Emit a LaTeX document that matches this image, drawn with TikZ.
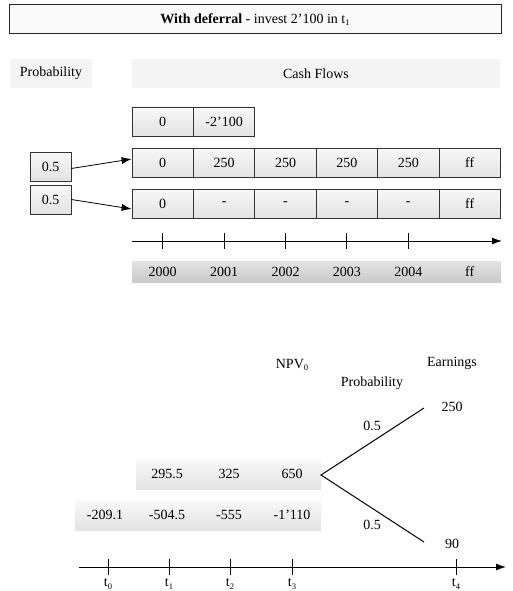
\documentclass[tikz,border=0pt]{standalone}
\usepackage{fontspec}
\setmainfont{Liberation Serif}[Ligatures=Common]
\usetikzlibrary{arrows.meta}
\newcommand{\mysub}[1]{\raisebox{-0.35ex}{\fontsize{8.5}{9}\selectfont #1}}
\tikzset{
  txt/.style={inner sep=0pt, font=\fontsize{14}{16}\selectfont},
  cell/.style={draw=black!80, line width=0.8pt, top color=gray!6, bottom color=gray!22,
    minimum width=61.4pt, minimum height=29pt, inner sep=0pt, font=\fontsize{14}{16}\selectfont},
  probbox/.style={cell, minimum width=41pt},
  lightbox/.style={fill=gray!9, inner sep=0pt, font=\fontsize{14}{16}\selectfont},
  valbox/.style={top color=gray!5, bottom color=gray!22, inner sep=0pt, minimum height=30pt},
  yearbar/.style={top color=gray!22, bottom color=gray!42, inner sep=0pt, minimum height=21pt, minimum width=369pt},
  arr/.style={-{Latex[length=10pt,width=7pt]}, line width=0.8pt},
  axis/.style={-{Latex[length=10pt,width=7pt]}, line width=1pt},
  tick/.style={line width=1pt},
  branch/.style={line width=1pt}
}
\begin{document}
\begin{tikzpicture}[x=1pt,y=-1pt]
\useasboundingbox (0,0) rectangle (513,591);
% title
\node[draw=black!85, line width=1pt, fill=gray!4, minimum width=492pt, minimum height=29pt, inner sep=0pt,
  font=\fontsize{14}{16}\selectfont] (title) at (255,19.5) {\textbf{With deferral} - invest 2'100 in t\mysub{1}};
% headers
\node[lightbox, minimum width=82pt, minimum height=29pt] (probh) at (51,73.5) {Probability};
\node[lightbox, minimum width=368pt, minimum height=29pt] (cfh) at (316,73.5) {Cash Flows};
% row 1
\node[cell] (r1c1) at (162.7,121.5) {0};
\node[cell] (r1c2) at (224.1,121.5) {-2'100};
% row 2
\node[cell] (r2c1) at (162.7,163) {0};
\node[cell] (r2c2) at (224.1,163) {250};
\node[cell] (r2c3) at (285.5,163) {250};
\node[cell] (r2c4) at (346.9,163) {250};
\node[cell] (r2c5) at (408.3,163) {250};
\node[cell] (r2c6) at (469.7,163) {ff};
% row 3
\node[cell] (r3c1) at (162.7,203.5) {0};
\node[cell] (r3c2) at (224.1,203.5) {-};
\node[cell] (r3c3) at (285.5,203.5) {-};
\node[cell] (r3c4) at (346.9,203.5) {-};
\node[cell] (r3c5) at (408.3,203.5) {-};
\node[cell] (r3c6) at (469.7,203.5) {ff};
% probabilities
\node[probbox] (p1) at (50.5,166.5) {0.5};
\node[probbox] (p2) at (50.5,199.5) {0.5};
\draw[arr] ([yshift=-2pt]p1.east) -- ([yshift=4pt]r2c1.west);
\draw[arr] (p2.east) -- ([yshift=-5.5pt]r3c1.west);
% upper axis
\coordinate (ax1s) at (132,241);
\coordinate (ax1e) at (502,241);
\draw[axis] (ax1s) -- (ax1e);
\foreach \x in {162.7,224.1,285.5,346.9,408.3}{
  \draw[tick] (\x,233) -- (\x,249);
}
% year bar
\node[yearbar] (years) at (316.5,271.5) {};
\node[txt] (y0) at (162.7,272) {2000};
\node[txt] (y1) at (224.1,272) {2001};
\node[txt] (y2) at (285.5,272) {2002};
\node[txt] (y3) at (346.9,272) {2003};
\node[txt] (y4) at (408.3,272) {2004};
\node[txt] (y5) at (469.7,272) {ff};
% lower part
\node[txt] (npv) at (292,365) {NPV\mysub{0}};
\node[txt] (earn) at (452,363) {Earnings};
\node[txt] (probl) at (372,383) {Probability};
\node[txt] (e250) at (452,407) {250};
\node[txt] (pu) at (372,426) {0.5};
\node[txt] (pd) at (372,525) {0.5};
\node[txt] (e90) at (452,544) {90};
\node[valbox, minimum width=185pt] (vb1) at (228.5,474) {};
\node[valbox, minimum width=246pt] (vb2) at (198,515) {};
\node[txt] (v11) at (167,474) {295.5};
\node[txt] (v12) at (229,474) {325};
\node[txt] (v13) at (292,474) {650};
\node[txt] (v20) at (105,515) {-209.1};
\node[txt] (v21) at (167,515) {-504.5};
\node[txt] (v22) at (229,515) {-555};
\node[txt] (v23) at (292,515) {-1'110};
% tree
\coordinate (root) at (321,475);
\coordinate (up) at (424,408);
\coordinate (dn) at (424,542);
\draw[branch] (up) -- (root) -- (dn);
% lower axis
\coordinate (ax2s) at (79,567);
\coordinate (ax2e) at (506,567);
\draw[axis] (ax2s) -- (ax2e);
\foreach \x/\l in {108/0,169/1,230/2,292/3,456/4}{
  \draw[tick] (\x,559) -- (\x,575);
  \node[txt] (t\l) at (\x,584) {t\mysub{\l}};
}
\end{tikzpicture}
\end{document}
